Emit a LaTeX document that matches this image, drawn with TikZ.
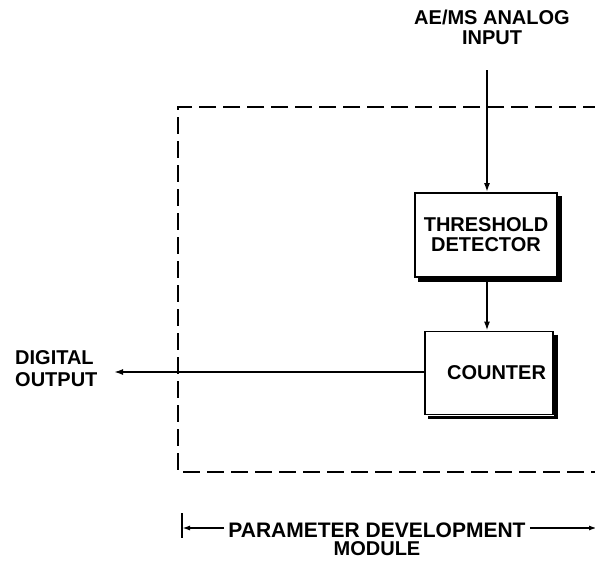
\documentclass[tikz,border=0pt]{standalone}
\usepackage{fontspec}
\setmainfont{Liberation Sans}
\usepackage{tikz}
\usetikzlibrary{arrows.meta}

\tikzset{
    rotulo/.style={font=\fontsize{20}{20}\selectfont\bfseries, inner sep=0pt, align=center},
    bloco/.style={draw, line width=1.8pt, inner sep=0pt, align=center,
        font=\fontsize{20}{20}\selectfont\bfseries},
    sombra/.style={line width=3.5pt},
    fio/.style={line width=1.7pt, -{Latex[length=9pt,width=6pt]}},
    moldura/.style={line width=1.8pt, dash pattern=on 17pt off 7pt}
}

\begin{document}
\begin{tikzpicture}[x=1pt, y=-1pt]

        \useasboundingbox (0,0) rectangle (595,563);

        % moldura tracejada
        \draw[moldura] (600,107) -- (178,107) -- (178,472) -- (600,472);

        % blocos
        \node[bloco, minimum width=142pt, minimum height=84pt] (limiar) at (486,235) {THRESHOLD\\DETECTOR};
        \node[bloco, minimum width=128pt, minimum height=83pt, text width=114pt, align=right] (contador) at (489,373) {COUNTER};

        % sombras
        \draw[sombra] ([xshift=2pt,yshift=-4pt]limiar.north east) -- ([xshift=2pt,yshift=-2pt]limiar.south east) -- ([xshift=4pt,yshift=-2pt]limiar.south west);
        \draw[sombra] ([xshift=2pt,yshift=-4pt]contador.north east) -- ([xshift=2pt,yshift=-2pt]contador.south east) -- ([xshift=4pt,yshift=-2pt]contador.south west);

        % rótulos
        \node[rotulo] (entrada) at (492,27) {AE/MS ANALOG\\INPUT};
        \node[rotulo, align=left, anchor=west, font=\fontsize{20}{22}\selectfont\bfseries] (saida) at (15,369) {DIGITAL\\OUTPUT};
        \node[rotulo, font=\fontsize{21}{20}\selectfont\bfseries] (modulo) at (377,530) {PARAMETER DEVELOPMENT};
        \node[rotulo, anchor=north] (modulo2) at ([yshift=-4pt]modulo.south) {MODULE};

        % conexões
        \coordinate (topo) at (487,70);
        \coordinate (fim) at (114,372);
        \draw[fio] (topo) -- (topo |- limiar.north);
        \draw[fio] (limiar.south -| topo) -- (contador.north -| topo);
        \draw[fio] (contador.west |- fim) -- (fim);

        % cota do módulo
        \coordinate (esq) at (182,528);
        \coordinate (dir) at (597,528);
        \draw[line width=1.7pt] (182,513) -- (182,538);
        \draw[fio, -{Latex[length=8pt,width=5pt]}] ([xshift=-4pt]modulo.west |- esq) -- (esq);
        \draw[fio, -{Latex[length=8pt,width=5pt]}] ([xshift=4pt]modulo.east |- dir) -- (dir);

\end{tikzpicture}
\end{document}
